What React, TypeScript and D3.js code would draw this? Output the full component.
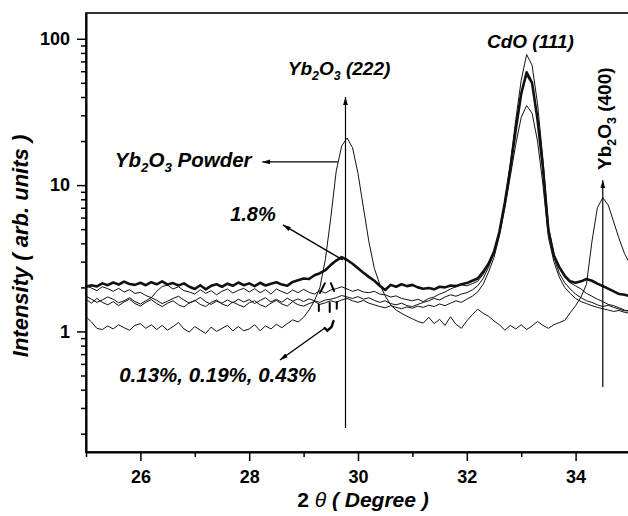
import React, { useEffect, useRef } from "react";
import * as d3 from "d3";

// 2θ sampling grid (degrees)
const twoTheta = [
  25.0, 25.1, 25.2, 25.3, 25.4, 25.5, 25.6, 25.7, 25.8, 25.9,
  26.0, 26.1, 26.2, 26.3, 26.4, 26.5, 26.6, 26.7, 26.8, 26.9,
  27.0, 27.1, 27.2, 27.3, 27.4, 27.5, 27.6, 27.7, 27.8, 27.9,
  28.0, 28.1, 28.2, 28.3, 28.4, 28.5, 28.6, 28.7, 28.8, 28.9,
  29.0, 29.1, 29.2, 29.3, 29.4, 29.5, 29.6, 29.7, 29.8, 29.9,
  30.0, 30.1, 30.2, 30.3, 30.4, 30.5, 30.6, 30.7, 30.8, 30.9,
  31.0, 31.1, 31.2, 31.3, 31.4, 31.5, 31.6, 31.7, 31.8, 31.9,
  32.0, 32.1, 32.2, 32.3, 32.4, 32.5, 32.6, 32.7, 32.8, 32.9,
  33.0, 33.1, 33.2, 33.3, 33.4, 33.5, 33.6, 33.7, 33.8, 33.9,
  34.0, 34.1, 34.2, 34.3, 34.4, 34.5, 34.6, 34.7, 34.8, 34.9,
  35.0,
];

// Yb2O3 powder
const powder = [
  1.26, 1.16, 1.05, 1.03, 1.09, 1.04, 1.11, 1.06, 1.02, 1.10,
  1.13, 1.05, 1.11, 1.03, 1.10, 1.02, 1.08, 1.15, 1.04, 0.99,
  1.08, 1.02, 0.97, 1.07, 1.00, 1.05, 1.10, 1.01, 1.08, 1.01,
  1.04, 1.11, 1.01, 1.09, 1.04, 1.12, 1.06, 1.13, 1.20, 1.16,
  1.25, 1.40, 1.62, 2.0, 3.1, 6.0, 12.5, 18.5, 21.0, 18.0,
  12.0, 7.0, 4.1, 2.7, 2.1, 1.75, 1.52, 1.40, 1.33, 1.27,
  1.22, 1.17, 1.14, 1.25, 1.13, 1.21, 1.10, 1.26, 1.12, 1.05,
  1.18, 1.30, 1.42, 1.33, 1.27, 1.18, 1.11, 1.02, 1.10, 1.04,
  1.11, 1.03, 1.09, 1.17, 1.10, 1.05, 1.11, 1.15, 1.19, 1.34,
  1.50, 1.72, 2.10, 4.10, 7.0, 8.2, 7.3, 5.6, 4.3, 3.4,
  2.9,
];

// 1.8 % doped film (thick line)
const film18 = [
  2.02, 2.07, 2.03, 2.13, 2.07, 2.16, 2.09, 2.19, 2.11, 2.08,
  2.15, 2.07, 2.17, 2.10, 2.20, 2.09, 2.14, 2.06, 2.13, 2.02,
  1.95, 2.07, 1.94, 2.05, 2.10, 2.02, 2.12, 2.05, 2.16, 2.07,
  2.13, 2.04, 2.15, 2.06, 2.12, 2.17, 2.09, 2.05, 2.18, 2.24,
  2.30, 2.28, 2.42, 2.50, 2.62, 2.85, 3.05, 3.22, 3.08, 2.90,
  2.70, 2.52, 2.36, 2.22, 2.05, 1.92, 2.08, 2.02, 2.10, 2.04,
  2.08, 2.00, 1.96, 1.98, 1.94, 2.02, 2.00, 2.06, 2.04, 2.10,
  2.14, 2.22, 2.30, 2.55, 2.90, 3.5, 4.8, 7.6, 13.0, 24.0,
  42, 59, 50, 28, 13, 4.9, 3.3, 2.75, 2.40, 2.20,
  2.15, 2.20, 2.28, 2.22, 2.12, 2.04, 1.96, 1.88, 1.80, 1.78,
  1.74,
];

// 0.13 %, 0.19 %, 0.43 % doped films (thin lines)
const film013 = [
  2.05, 1.98, 1.90, 2.02, 1.96, 1.88, 1.97, 1.86, 1.93, 1.82,
  1.85, 1.76, 1.70, 1.88, 2.03, 2.07, 1.95, 2.02, 1.90, 1.86,
  1.80, 1.93, 1.82, 1.90, 1.78, 1.88, 1.95, 1.83, 1.91, 1.97,
  1.86, 1.96, 1.84, 1.93, 1.80, 1.95, 1.87, 1.81, 1.92, 1.84,
  1.94, 1.85, 1.80, 1.90, 1.83, 1.92, 1.96, 2.02, 1.95, 1.88,
  1.93, 1.86, 1.84, 1.88, 1.80, 1.78, 1.72, 1.75, 1.68, 1.65,
  1.62, 1.66, 1.60, 1.68, 1.72, 1.80, 1.86, 1.95, 2.02, 2.08,
  2.05, 2.12, 2.20, 2.45, 2.85, 3.5, 4.9, 7.8, 14.0, 28.0,
  52, 78, 66, 36, 15, 5.2, 3.4, 2.7, 2.35, 2.15,
  2.05, 1.95, 1.82, 1.74, 1.66, 1.60, 1.53, 1.50, 1.45, 1.40,
  1.36,
];

const film019 = [
  1.74, 1.66, 1.58, 1.64, 1.72, 1.66, 1.57, 1.62, 1.70, 1.60,
  1.54, 1.62, 1.70, 1.63, 1.55, 1.61, 1.68, 1.74, 1.64, 1.56,
  1.62, 1.71, 1.60, 1.53, 1.61, 1.56, 1.64, 1.57, 1.66, 1.59,
  1.65, 1.55, 1.63, 1.70, 1.59, 1.66, 1.58, 1.69, 1.61, 1.67,
  1.60, 1.67, 1.62, 1.58, 1.64, 1.66, 1.70, 1.76, 1.72, 1.68,
  1.73, 1.66, 1.70, 1.63, 1.58, 1.62, 1.55, 1.52, 1.56, 1.50,
  1.48, 1.53, 1.58, 1.62, 1.68, 1.64, 1.72, 1.78, 1.74, 1.80,
  1.84, 1.92, 2.05, 2.30, 2.75, 3.4, 4.8, 7.6, 13.5, 25,
  43, 56, 49, 29, 13, 4.8, 3.2, 2.5, 2.15, 1.95,
  1.80, 1.70, 1.62, 1.58, 1.52, 1.48, 1.51, 1.46, 1.42, 1.38,
  1.40,
];

const film043 = [
  1.66, 1.56, 1.68, 1.58, 1.52, 1.60, 1.50, 1.59, 1.66, 1.55,
  1.49, 1.58, 1.65, 1.55, 1.48, 1.56, 1.62, 1.52, 1.47, 1.57,
  1.63, 1.53, 1.48, 1.58, 1.64, 1.54, 1.49, 1.59, 1.52, 1.47,
  1.57, 1.62, 1.52, 1.47, 1.56, 1.63, 1.54, 1.49, 1.60, 1.52,
  1.49, 1.55, 1.60, 1.53, 1.57, 1.62, 1.58, 1.64, 1.68, 1.62,
  1.58, 1.63, 1.56, 1.52, 1.48, 1.45, 1.50, 1.46, 1.43, 1.47,
  1.44, 1.49, 1.46, 1.51, 1.48, 1.54, 1.50, 1.56, 1.62, 1.58,
  1.66, 1.74, 1.86, 2.10, 2.55, 3.2, 4.5, 7.0, 11.5, 19,
  29, 35, 31, 20, 10, 4.4, 3.0, 2.35, 2.0, 1.82,
  1.68, 1.60, 1.55, 1.50, 1.46, 1.43, 1.40, 1.37, 1.39, 1.35,
  1.33,
];

const xMajorTicks = [26, 28, 30, 32, 34];
const xMinorTicks = [25, 27, 29, 31, 33, 35];
const yMajorTicks = [1, 10, 100];
const yMinorTicks = [
  0.2, 0.3, 0.4, 0.5, 0.6, 0.7, 0.8, 0.9,
  2, 3, 4, 5, 6, 7, 8, 9,
  20, 30, 40, 50, 60, 70, 80, 90,
];

const FONT = "Arial, 'Liberation Sans', Helvetica, sans-serif";

export default function App() {
  const ref = useRef<SVGSVGElement>(null);

  useEffect(() => {
    const svg = d3.select(ref.current);
    svg.selectAll("*").remove();

    const left = 86, right = 630, top = 13, bottom = 452;
    const x = d3.scaleLinear().domain([25, 35]).range([left, right]);
    const y = d3.scaleLog().domain([0.15, 150]).range([bottom, top]);

    const defs = svg.append("defs");
    defs.append("clipPath").attr("id", "plot-clip")
      .append("rect").attr("x", left).attr("y", top)
      .attr("width", right - left).attr("height", bottom - top);
    defs.append("marker")
      .attr("id", "ah")
      .attr("viewBox", "0 0 10 6")
      .attr("refX", 10).attr("refY", 3)
      .attr("markerWidth", 8).attr("markerHeight", 5)
      .attr("markerUnits", "userSpaceOnUse")
      .attr("orient", "auto")
      .append("path").attr("d", "M0,0L10,3L0,6z").attr("fill", "#000");

    // curves
    const line = d3.line<[number, number]>()
      .x((d) => x(d[0]))
      .y((d) => y(d[1]));
    const pairs = (vals: number[]) => twoTheta.map((t, i) => [t, vals[i]] as [number, number]);

    const curves = [
      { vals: powder, w: 1 },
      { vals: film043, w: 1 },
      { vals: film019, w: 1 },
      { vals: film013, w: 1 },
      { vals: film18, w: 2.6 },
    ];
    const gc = svg.append("g").attr("clip-path", "url(#plot-clip)");
    curves.forEach((c) => {
      gc.append("path")
        .datum(pairs(c.vals))
        .attr("fill", "none")
        .attr("stroke", "#111")
        .attr("stroke-width", c.w)
        .attr("stroke-linejoin", "round")
        .attr("d", line);
    });

    // frame
    svg.append("rect")
      .attr("x", left).attr("y", top)
      .attr("width", right - left).attr("height", bottom - top)
      .attr("fill", "none").attr("stroke", "#000").attr("stroke-width", 1.6);

    // x axis
    const gx = svg.append("g").attr("transform", `translate(0,${bottom})`);
    gx.call(d3.axisBottom(x).tickValues(xMajorTicks).tickSize(9).tickSizeOuter(0).tickPadding(9).tickFormat(d3.format("d")));
    const gxm = svg.append("g").attr("transform", `translate(0,${bottom})`);
    gxm.call(d3.axisBottom(x).tickValues(xMinorTicks).tickSize(5).tickSizeOuter(0).tickFormat(() => ""));
    gxm.select(".domain").remove();

    // y axis
    const gy = svg.append("g").attr("transform", `translate(${left},0)`);
    gy.call(d3.axisLeft(y).tickValues(yMajorTicks).tickSize(9).tickSizeOuter(0).tickPadding(7).tickFormat(d3.format("d")));
    const gym = svg.append("g").attr("transform", `translate(${left},0)`);
    gym.call(d3.axisLeft(y).tickValues(yMinorTicks).tickSize(5).tickSizeOuter(0).tickFormat(() => ""));
    gym.select(".domain").remove();

    [gx, gxm, gy, gym].forEach((g) => {
      g.selectAll(".domain").attr("stroke-width", 2);
      g.selectAll(".tick line").attr("stroke-width", 1.5);
      g.selectAll("text")
        .attr("font-family", FONT)
        .attr("font-size", 18)
        .attr("font-weight", "bold")
        .attr("fill", "#000");
    });

    // axis titles
    svg.append("text")
      .attr("transform", `translate(28,246) rotate(-90)`)
      .attr("text-anchor", "middle")
      .attr("font-family", FONT)
      .attr("font-size", 22)
      .attr("font-weight", "bold")
      .attr("font-style", "italic")
      .text("Intensity ( arb. units )");

    const xt = svg.append("text")
      .attr("x", 363).attr("y", 507)
      .attr("text-anchor", "middle")
      .attr("font-family", FONT)
      .attr("font-size", 21)
      .attr("font-weight", "bold");
    xt.append("tspan").text("2 ");
    xt.append("tspan").attr("font-style", "italic").attr("font-weight", "normal").text("θ");
    xt.append("tspan").attr("font-style", "italic").text(" ( Degree )");

    // annotations
    type Part = { t: string; sub?: boolean };
    const label = (
      xv: number, yv: number, parts: Part[],
      opts: { italic?: boolean; rotate?: boolean; size?: number } = {}
    ) => {
      const size = opts.size ?? 20;
      const g = svg.append("g")
        .attr("transform", `translate(${x(xv)},${y(yv)})${opts.rotate ? " rotate(-90)" : ""}`);
      const t = g.append("text")
        .attr("font-family", FONT)
        .attr("font-size", size)
        .attr("font-weight", "bold")
        .attr("font-style", opts.italic === false ? "normal" : "italic");
      let shift = 0;
      parts.forEach((p) => {
        const target = p.sub ? 5 : 0;
        const ts = t.append("tspan").attr("dy", target - shift).text(p.t);
        if (p.sub) ts.attr("font-size", size * 0.65);
        shift = target;
      });
    };
    const yb2o3 = (rest: string): Part[] => [
      { t: "Yb" }, { t: "2", sub: true }, { t: "O" }, { t: "3", sub: true }, { t: rest },
    ];

    label(28.71, 56.5, yb2o3(" (222)"), { size: 19 });
    label(32.37, 86.5, [{ t: "CdO (111)" }], { size: 19 });
    label(25.53, 13.3, yb2o3(" Powder"), { size: 20.5 });
    label(27.65, 5.68, [{ t: "1.8%" }]);
    label(25.61, 0.451, [{ t: "0.13%, 0.19%, 0.43%" }], { size: 20.5 });
    label(34.65, 12.7, yb2o3(" (400)"), { rotate: true, italic: false, size: 19 });

    const arrow = (x1: number, y1: number, x2: number, y2: number, w = 1.2) => {
      svg.append("line")
        .attr("x1", x(x1)).attr("y1", y(y1))
        .attr("x2", x(x2)).attr("y2", y(y2))
        .attr("stroke", "#000").attr("stroke-width", w)
        .attr("marker-end", "url(#ah)");
    };
    arrow(29.77, 0.219, 29.77, 40.0);
    arrow(34.5, 0.417, 34.5, 10.8);
    arrow(29.63, 14.4, 28.24, 14.4);
    arrow(29.72, 3.08, 28.62, 5.34, 1.4);
    arrow(29.39, 1.055, 28.566, 0.638, 1.4);

    // hand-drawn marks near 29.4°
    const mark = (pts: [number, number][], w = 2.4) => {
      svg.append("path")
        .datum(pts)
        .attr("fill", "none")
        .attr("stroke", "#000")
        .attr("stroke-width", w)
        .attr("stroke-linecap", "round")
        .attr("d", line);
    };
    mark([[29.39, 1.055], [29.436, 1.014], [29.513, 1.072], [29.55, 1.178]]);
    mark([[29.30, 1.83], [29.39, 2.13]], 2);
    mark([[29.50, 2.14], [29.56, 1.89]], 2);
    mark([[29.28, 1.52], [29.28, 1.38]], 2);
    mark([[29.48, 1.57], [29.48, 1.36]], 2);
    mark([[29.61, 1.59], [29.61, 1.43]], 2);
  }, []);

  return (
    <svg
      ref={ref}
      width={628}
      height={516}
      style={{ position: "absolute", left: 0, top: 0, background: "#fff" }}
    />
  );
}
